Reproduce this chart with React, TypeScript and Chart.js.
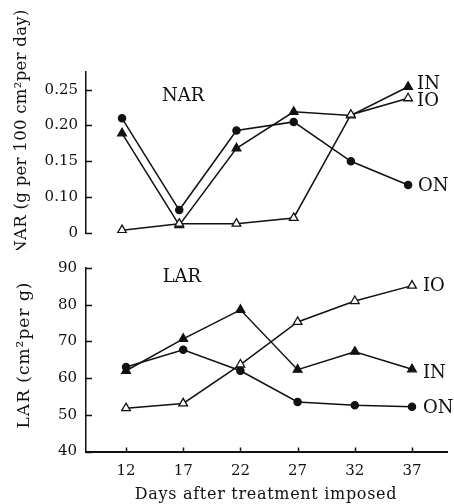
import React, { useEffect, useRef } from "react";
import { Chart, registerables } from "chart.js";

Chart.register(...registerables);

// ---- data ----
const days = [12, 17, 22, 27, 32, 37];

// NAR panel (axis is broken below 0.10: the bottom tick labelled "0" sits one step below 0.10)
const narON = [0.21, 0.082, 0.193, 0.205, 0.15, 0.117];
const narIN = [0.189, 0.061, 0.168, 0.219, 0.214, 0.254];
const narIO = [0.054, 0.063, 0.063, 0.071, 0.215, 0.238];
const narTickValues = [0.05, 0.1, 0.15, 0.2, 0.25];
const narTickLabels = ["0", "0.10", "0.15", "0.20", "0.25"];

// LAR panel
const larON = [63.0, 67.7, 62.0, 53.5, 52.6, 52.2];
const larIN = [62.0, 70.7, 78.6, 62.3, 67.2, 62.4];
const larIO = [51.8, 53.1, 63.7, 75.3, 81.0, 85.2];
const larTickValues = [40, 50, 60, 70, 80, 90];

const xTickValues = days;
const xTitle = "Days after treatment imposed";
const narTitle = "NAR (g per 100 cm\u00B2per day)";
const larTitle = "LAR (cm\u00B2per g)";

const INK = "#111";
const SERIF = "'DejaVu Serif', serif";

function pts(arr: number[]) {
  return days.map((d, i) => ({ x: d, y: arr[i] }));
}

function makeDatasets(on: number[], inn: number[], io: number[]) {
  const common = {
    borderColor: INK,
    borderWidth: 1.5,
    pointBorderColor: INK,
    pointBorderWidth: 1.3,
    tension: 0,
  };
  return [
    {
      ...common,
      label: "IO",
      data: pts(io),
      pointStyle: "triangle",
      pointRadius: 5,
      pointBackgroundColor: "#fff",
      order: 1,
    },
    {
      ...common,
      label: "IN",
      data: pts(inn),
      pointStyle: "triangle",
      pointRadius: 5,
      pointBackgroundColor: INK,
      order: 2,
    },
    {
      ...common,
      label: "ON",
      data: pts(on),
      pointStyle: "circle",
      pointRadius: 3.6,
      pointBackgroundColor: INK,
      order: 3,
    },
  ];
}

const decor = {
  id: "decor",
  afterDatasetsDraw(chart: any, _args: any, opts: any) {
    const ctx = chart.ctx as CanvasRenderingContext2D;
    const xs = chart.scales.x;
    const ys = chart.scales.y;
    const area = chart.chartArea;
    ctx.save();
    ctx.strokeStyle = INK;
    ctx.lineWidth = 1.5;
    // inward y ticks
    for (const v of opts.yTicks || []) {
      const py = Math.round(ys.getPixelForValue(v)) + 0.5;
      ctx.beginPath();
      ctx.moveTo(area.left, py);
      ctx.lineTo(area.left + 6, py);
      ctx.stroke();
    }
    // inward x ticks
    for (const v of opts.xTicks || []) {
      const px = Math.round(xs.getPixelForValue(v)) + 0.5;
      ctx.beginPath();
      ctx.moveTo(px, area.bottom);
      ctx.lineTo(px, area.bottom - 4);
      ctx.stroke();
    }
    ctx.fillStyle = INK;
    // end labels for series
    ctx.font = `18px ${SERIF}`;
    ctx.textAlign = "left";
    ctx.textBaseline = "middle";
    for (const l of opts.endLabels || []) {
      ctx.fillText(l.text, xs.getPixelForValue(l.x) + l.dx, ys.getPixelForValue(l.y) + l.dy);
    }
    // panel label
    if (opts.panel) {
      ctx.font = `18px ${SERIF}`;
      ctx.fillText(opts.panel.text, xs.getPixelForValue(opts.panel.x), ys.getPixelForValue(opts.panel.y));
    }
    // y axis title (rotated)
    if (opts.yTitle) {
      const t = opts.yTitle;
      ctx.save();
      ctx.translate(t.cx, t.cy);
      ctx.rotate(-Math.PI / 2);
      ctx.font = `${t.size}px ${SERIF}`;
      (ctx as any).letterSpacing = t.spacing || "0px";
      ctx.textAlign = "center";
      ctx.textBaseline = "middle";
      ctx.fillText(t.text, 0, 0);
      ctx.restore();
    }
    // x axis title
    if (opts.xTitle) {
      const t = opts.xTitle;
      ctx.font = `${t.size}px ${SERIF}`;
      (ctx as any).letterSpacing = t.spacing || "0px";
      ctx.textAlign = "center";
      ctx.textBaseline = "middle";
      ctx.fillText(t.text, t.cx, t.cy);
    }
    ctx.restore();
  },
};

function last(arr: number[]) {
  return arr[arr.length - 1];
}

export default function App() {
  const topRef = useRef<HTMLCanvasElement>(null);
  const botRef = useRef<HTMLCanvasElement>(null);

  useEffect(() => {
    const lastDay = last(days);
    const top = new Chart(topRef.current as HTMLCanvasElement, {
      type: "line",
      data: { datasets: makeDatasets(narON, narIN, narIO) as any },
      options: {
        animation: false,
        responsive: false,
        maintainAspectRatio: false,
        layout: { padding: { left: 0, top: 72, right: 7, bottom: 10 } },
        plugins: {
          legend: { display: false },
          tooltip: { enabled: false },
          decor: {
            yTicks: narTickValues,
            endLabels: [
              { text: "IN", x: lastDay, y: last(narIN), dx: 9, dy: -2 },
              { text: "IO", x: lastDay, y: last(narIO), dx: 9, dy: 3 },
              { text: "ON", x: lastDay, y: last(narON), dx: 10, dy: 1 },
            ],
            panel: { text: "NAR", x: 15.5, y: 0.24 },
            yTitle: { text: narTitle, cx: 22, cy: 132, size: 16.5, spacing: "0.3px" },
          },
        } as any,
        scales: {
          x: { type: "linear", min: 8.85, max: 40.4, display: false },
          y: {
            type: "linear",
            min: 0.05,
            max: 0.2746,
            grid: { display: false, drawTicks: false },
            border: { display: true, color: INK, width: 1.5 },
            afterBuildTicks: (s: any) => {
              s.ticks = narTickValues.map((v) => ({ value: v }));
            },
            afterFit: (s: any) => {
              s.width = 86;
            },
            ticks: {
              padding: 8,
              color: INK,
              font: { family: SERIF, size: 15 },
              callback: (v: any) => {
                const i = narTickValues.findIndex((t) => Math.abs(t - v) < 1e-9);
                return i >= 0 ? narTickLabels[i] : "";
              },
            },
          },
        },
      },
      plugins: [decor as any],
    });

    const bot = new Chart(botRef.current as HTMLCanvasElement, {
      type: "line",
      data: { datasets: makeDatasets(larON, larIN, larIO) as any },
      options: {
        animation: false,
        responsive: false,
        maintainAspectRatio: false,
        layout: { padding: { left: 0, top: 9, right: 7, bottom: 0 } },
        plugins: {
          legend: { display: false },
          tooltip: { enabled: false },
          decor: {
            yTicks: larTickValues,
            xTicks: xTickValues,
            endLabels: [
              { text: "IO", x: lastDay, y: last(larIO), dx: 11, dy: 1 },
              { text: "IN", x: lastDay, y: last(larIN), dx: 11, dy: 4 },
              { text: "ON", x: lastDay, y: last(larON), dx: 11, dy: 2 },
            ],
            panel: { text: "LAR", x: 15.2, y: 87.4 },
            yTitle: { text: larTitle, cx: 25, cy: 105, size: 17, spacing: "1px" },
            xTitle: { text: xTitle, cx: 266, cy: 245, size: 16, spacing: "0.7px" },
          },
        } as any,
        scales: {
          x: {
            type: "linear",
            min: 8.5,
            max: 40.06,
            grid: { display: false, drawTicks: false },
            border: { display: true, color: INK, width: 2 },
            afterBuildTicks: (s: any) => {
              s.ticks = xTickValues.map((v) => ({ value: v }));
            },
            afterFit: (s: any) => {
              s.height = 52.5;
            },
            ticks: {
              padding: 11,
              color: INK,
              font: { family: SERIF, size: 15 },
              maxRotation: 0,
            },
          },
          y: {
            type: "linear",
            min: 40,
            max: 90,
            grid: { display: false, drawTicks: false },
            border: { display: true, color: INK, width: 1.5 },
            afterBuildTicks: (s: any) => {
              s.ticks = larTickValues.map((v) => ({ value: v }));
            },
            afterFit: (s: any) => {
              s.width = 86;
            },
            ticks: {
              padding: 9,
              color: INK,
              font: { family: SERIF, size: 15 },
            },
          },
        },
      },
      plugins: [decor as any],
    });

    return () => {
      top.destroy();
      bot.destroy();
    };
  }, []);

  return (
    <div style={{ position: "fixed", left: 0, top: 0, width: 454, height: 504, background: "#fff" }}>
      <canvas ref={topRef} width={454} height={250} style={{ position: "absolute", left: 0, top: 0 }} />
      <canvas ref={botRef} width={454} height={254} style={{ position: "absolute", left: 0, top: 250 }} />
    </div>
  );
}
